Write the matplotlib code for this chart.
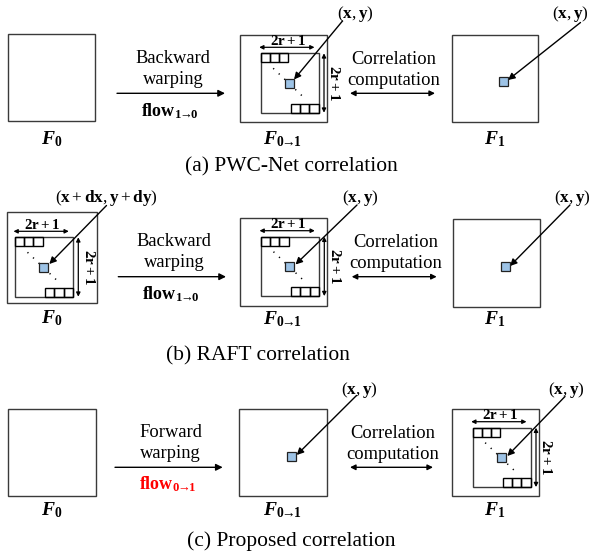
import matplotlib
matplotlib.use("Agg")
import matplotlib.pyplot as plt
from matplotlib.patches import Rectangle

# ---- text content -------------------------------------------------------
captions = ["(a) PWC-Net correlation", "(b) RAFT correlation", "(c) Proposed correlation"]
frame_labels = [r"$F_{\mathbf{0}}$",
                r"$F_{\mathbf{0}\!\!\rightarrow\!\!\mathbf{1}}$",
                r"$F_{\mathbf{1}}$"]
warp_words = [["Backward", "warping"], ["Backward", "warping"], ["Forward", "warping"]]
flow_labels = [r"$\mathbf{flow}_{\mathbf{1}\!\!\rightarrow\!\!\mathbf{0}}$",
               r"$\mathbf{flow}_{\mathbf{1}\!\!\rightarrow\!\!\mathbf{0}}$",
               r"$\mathbf{flow}_{\mathbf{0}\!\!\rightarrow\!\!\mathbf{1}}$"]
flow_colors = ["black", "black", "#ff0000"]
corr_words = ["Correlation", "computation"]
window_label = r"$\mathbf{2r+1}$"
point_label = r"$(\mathbf{x},\mathbf{y})$"
shifted_point_label = r"$(\mathbf{x}+\mathbf{dx},\mathbf{y}+\mathbf{dy})$"

# ---- layout (pixel coordinates, origin top-left) -------------------------
# frame boxes per row: (left, top, right, bottom) for F0, F0->1, F1
boxes = [
    [(7.5, 34.0, 94.5, 121.0), (240.0, 35.0, 326.7, 121.7), (451.7, 34.7, 538.3, 121.7)],
    [(7.3, 211.7, 96.7, 303.3), (240.0, 218.3, 326.7, 305.7), (453.3, 219.3, 540.0, 306.7)],
    [(8.3, 409.3, 95.7, 496.0), (239.3, 409.3, 326.7, 496.0), (452.3, 409.3, 539.3, 496.0)],
]
# search windows: (row, frame index, inner left, inner top)
windows = [(0, 1, 260.7, 53.3), (1, 0, 15.0, 237.3), (1, 1, 261.0, 236.7), (2, 2, 472.7, 427.7)]
# plain boxes that only hold the query pixel: (row, frame index)
plain_points = [(0, 2), (1, 2), (2, 1)]
# pointer arrows: (label, label xy, arrow start, arrow end)
pointers = [
    (point_label, (355.0, 14.0), (342.5, 21.0), (294.0, 79.5)),
    (point_label, (570.0, 14.0), (580.5, 22.5), (508.0, 80.0)),
    (shifted_point_label, (106.7, 197.5), (106.5, 205.5), (49.3, 264.0)),
    (point_label, (360.0, 198.5), (357.0, 205.0), (295.5, 264.5)),
    (point_label, (572.0, 198.5), (570.0, 205.0), (510.0, 266.0)),
    (point_label, (359.0, 390.0), (356.5, 395.5), (296.7, 455.0)),
    (point_label, (566.0, 390.0), (565.0, 396.5), (507.3, 456.0)),
]
frame_label_pos = [[(51.7, 139.0), (282.5, 139.0), (495.0, 139.0)],
                   [(51.7, 318.5), (282.5, 319.5), (495.0, 319.5)],
                   [(51.7, 510.0), (282.5, 510.0), (495.0, 510.0)]]
warp_arrow = [(117.0, 225.0, 93.3), (118.3, 226.0, 276.7), (115.0, 222.7, 467.3)]
corr_arrow = [(350.0, 435.0, 93.3), (351.7, 436.7, 276.7), (350.0, 433.0, 467.3)]
caption_pos = [(291.0, 166.5), (258.0, 355.5), (291.0, 541.0)]

EDGE = "#3a3a3a"
BLUE = "#9dc3e6"
SERIF = "Liberation Serif"

plt.rcParams["mathtext.fontset"] = "custom"
plt.rcParams["mathtext.rm"] = "Liberation Serif"
plt.rcParams["mathtext.bf"] = "Liberation Serif:bold"
plt.rcParams["mathtext.it"] = "Liberation Serif:italic:bold"

W, H = 589, 557
fig = plt.figure(figsize=(W / 100, H / 100), dpi=100)
ax = fig.add_axes([0, 0, 1, 1])
ax.set_xlim(0, W)
ax.set_ylim(H, 0)
ax.axis("off")

single = dict(arrowstyle="-|>", color="black", lw=1.0, mutation_scale=10,
              shrinkA=0, shrinkB=0)
double = dict(arrowstyle="<|-|>", color="black", lw=1.0, mutation_scale=8,
              shrinkA=0, shrinkB=0)
double_small = dict(arrowstyle="<|-|>", color="black", lw=0.9, mutation_scale=6,
                    shrinkA=0, shrinkB=0)


def arrow(p0, p1, style):
    ax.annotate("", xy=p1, xytext=p0, arrowprops=style)


def blue_pixel(cx, cy, s=9.0):
    ax.add_patch(Rectangle((cx - s / 2, cy - s / 2), s, s, facecolor=BLUE,
                           edgecolor="#222222", lw=0.9, zorder=4))


def search_window(left, top, w=57.8, h=59.4):
    right, bottom = left + w, top + h
    ax.add_patch(Rectangle((left, top), w, h, fill=False, ec=EDGE, lw=1.0, zorder=2))
    cw, chh = w / 6.3, 9.0
    for i in range(3):
        ax.add_patch(Rectangle((left + i * cw, top), cw, chh, fill=False,
                               ec="black", lw=1.0, zorder=3))
        ax.add_patch(Rectangle((right - (3 - i) * cw, bottom - chh), cw, chh,
                               fill=False, ec="black", lw=1.0, zorder=3))
    ax.plot([left + 12.5, left + 44.5], [top + 15.0, top + 45.5], color="black",
            lw=1.1, ls=(0, (0.8, 4.2)), zorder=3)
    blue_pixel(left + w / 2, top + h / 2)
    arrow((left - 1.5, top - 6.0), (right - 4.0, top - 6.0), double_small)
    ax.text(left + 27.5, top - 13.0, window_label, ha="center", va="center",
            fontsize=10.8)
    arrow((right + 5.5, top), (right + 5.5, bottom), double_small)
    ax.text(right + 16.5, (top + bottom) / 2, window_label, ha="center",
            va="center", rotation=-90, fontsize=10.8)


# frame boxes
for row in boxes:
    for (l, t, r, b) in row:
        ax.add_patch(Rectangle((l, t), r - l, b - t, fill=False, ec=EDGE, lw=1.0))

for (ri, fi, il, it) in windows:
    search_window(il, it)

for (ri, fi) in plain_points:
    l, t, r, b = boxes[ri][fi]
    blue_pixel((l + r) / 2 + 8.7, (t + b) / 2 + 3.5)

for (lab, lxy, p0, p1) in pointers:
    ax.text(lxy[0], lxy[1], lab, ha="center", va="center", fontsize=12.3)
    arrow(p0, p1, single)

for ri in range(3):
    for fi in range(3):
        x, y = frame_label_pos[ri][fi]
        ax.text(x, y, frame_labels[fi], ha="center", va="center", fontsize=14)

    x0, x1, y = warp_arrow[ri]
    arrow((x0, y), (x1, y), single)
    cx = (x0 + x1) / 2 + 2
    ax.text(cx, y - 30.5, warp_words[ri][0], ha="center", va="baseline",
            fontsize=13.3, family=SERIF)
    ax.text(cx, y - 9.5, warp_words[ri][1], ha="center", va="baseline",
            fontsize=13.3, family=SERIF)
    ax.text(cx - 3, y + 22.5, flow_labels[ri], ha="center", va="baseline",
            fontsize=13, color=flow_colors[ri])

    x0, x1, y = corr_arrow[ri]
    arrow((x0, y), (x1, y), double)
    cx = (x0 + x1) / 2 + 1
    ax.text(cx, y - 29.5, corr_words[0], ha="center", va="baseline",
            fontsize=13.3, family=SERIF)
    ax.text(cx, y - 8.5, corr_words[1], ha="center", va="baseline",
            fontsize=13.3, family=SERIF)

    x, y = caption_pos[ri]
    ax.text(x, y, captions[ri], ha="center", va="center", fontsize=15.5,
            family=SERIF)

fig.savefig("out.png", dpi=100)
